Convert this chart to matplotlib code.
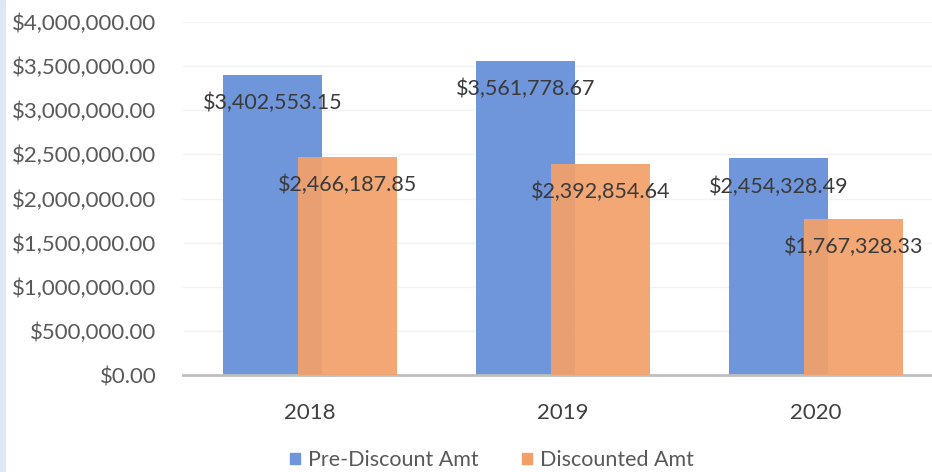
import matplotlib
matplotlib.use('Agg')
import matplotlib.pyplot as plt
import numpy as np
from matplotlib.patches import Rectangle

years = ['2018', '2019', '2020']
pre_discount = [3402553.15, 3561778.67, 2454328.49]
discounted = [2466187.85, 2392854.64, 1767328.33]
y_ticks = [0, 500000, 1000000, 1500000, 2000000, 2500000, 3000000, 3500000, 4000000]

plt.rcParams['font.family'] = ['Lato', 'DejaVu Sans']

fig = plt.figure(figsize=(9.32, 4.72), dpi=100)
ax = fig.add_axes([183 / 932, 97 / 472, 1 - 183 / 932, 353 / 472])

x = np.arange(len(years))
w = 0.39
off = 0.148
blue = '#6f95da'
orange = '#f3a068'

b1 = ax.bar(x - off, pre_discount, w, color=blue, zorder=2)
b2 = ax.bar(x + off, discounted, w, color=orange, alpha=0.92, zorder=3)

def fmt(v):
    return '${:,.2f}'.format(v)

for bars, vals in [(b1, pre_discount), (b2, discounted)]:
    for rect, v in zip(bars, vals):
        ax.annotate(fmt(v), (rect.get_x() + rect.get_width() / 2, v),
                    xytext=(0, -28), textcoords='offset pixels',
                    ha='center', va='center', fontsize=15.5, color='#3a3a3a', zorder=5)

ax.set_xlim(-0.502, 2.458)
ax.set_ylim(0, 4000000)
ax.set_yticks(y_ticks)
ax.set_yticklabels([fmt(v) for v in y_ticks])
ax.set_xticks(x)
ax.set_xticklabels(years)
ax.tick_params(axis='y', length=0, pad=19, labelsize=16, labelcolor='#595959')
ax.tick_params(axis='x', length=0, pad=20, labelsize=16, labelcolor='#404040')
ax.grid(axis='y', color='#f2f2f2', linewidth=1, zorder=0)
for s in ['left', 'right', 'top']:
    ax.spines[s].set_visible(False)
ax.spines['bottom'].set_color('#bfbfbf')
ax.spines['bottom'].set_linewidth(2)

handles = [Rectangle((0, 0), 1, 1, color=blue), Rectangle((0, 0), 1, 1, color=orange)]
fig.legend(handles, ['Pre-Discount Amt', 'Discounted Amt'], loc='center',
           bbox_to_anchor=(492 / 932, 1 - 460 / 472), ncol=2, frameon=False,
           fontsize=15.5, handlelength=0.45, handleheight=0.45, handletextpad=0.4,
           columnspacing=2.0, labelcolor='#595959')

fig.patches.append(Rectangle((0, 0), 5 / 932, 1, transform=fig.transFigure,
                             color='#dde8f5', zorder=0))

fig.savefig('out.png', dpi=100)
